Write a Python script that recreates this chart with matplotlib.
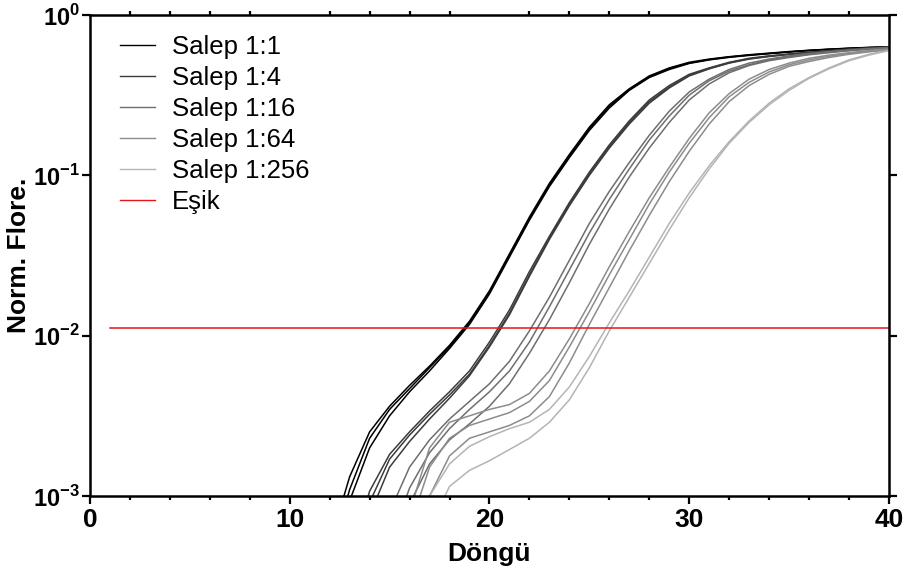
import numpy as np
import matplotlib
matplotlib.use('Agg')
import matplotlib.pyplot as plt
from matplotlib.ticker import MultipleLocator, FixedLocator

plt.rcParams['font.family'] = ['Liberation Sans', 'DejaVu Sans']
plt.rcParams['mathtext.fontset'] = 'custom'
plt.rcParams['mathtext.rm'] = 'Liberation Sans:bold'
plt.rcParams['mathtext.bf'] = 'Liberation Sans:bold'

# cycles 12..40, log10 of normalized fluorescence (nan = not reached yet)
cycles = np.arange(12, 41)
nan = np.nan

salep_1_1 = [
    [-3.30, -2.88, -2.60, -2.44, -2.31, -2.19, -2.06, -1.91, -1.72, -1.49, -1.26, -1.05, -0.87, -0.70, -0.56,
     -0.46, -0.38, -0.33, -0.295, -0.275, -0.26, -0.248, -0.238, -0.228, -0.22, -0.213, -0.207, -0.202, -0.198],
    [-3.40, -2.96, -2.64, -2.46, -2.33, -2.20, -2.07, -1.92, -1.73, -1.50, -1.27, -1.06, -0.88, -0.71, -0.57,
     -0.465, -0.385, -0.335, -0.30, -0.278, -0.262, -0.25, -0.24, -0.23, -0.221, -0.214, -0.208, -0.203, -0.199],
    [-3.50, -3.03, -2.70, -2.50, -2.35, -2.22, -2.08, -1.93, -1.74, -1.51, -1.28, -1.07, -0.89, -0.72, -0.58,
     -0.47, -0.39, -0.34, -0.302, -0.28, -0.264, -0.252, -0.241, -0.231, -0.222, -0.215, -0.209, -0.204, -0.20],
]
salep_1_4 = [
    [nan, -3.40, -2.97, -2.74, -2.60, -2.47, -2.35, -2.22, -2.04, -1.84, -1.60, -1.38, -1.17, -0.98, -0.81,
     -0.66, -0.53, -0.44, -0.37, -0.33, -0.295, -0.27, -0.255, -0.243, -0.232, -0.222, -0.213, -0.206, -0.20],
    [nan, -3.50, -3.04, -2.77, -2.62, -2.49, -2.37, -2.24, -2.06, -1.86, -1.62, -1.39, -1.18, -0.99, -0.82,
     -0.67, -0.54, -0.45, -0.375, -0.333, -0.298, -0.273, -0.257, -0.245, -0.234, -0.224, -0.215, -0.207, -0.201],
    [nan, nan, -3.12, -2.82, -2.66, -2.52, -2.39, -2.25, -2.07, -1.87, -1.63, -1.40, -1.19, -1.00, -0.83,
     -0.68, -0.55, -0.455, -0.38, -0.336, -0.30, -0.275, -0.259, -0.246, -0.235, -0.225, -0.216, -0.208, -0.202],
]
salep_1_16 = [
    [nan, nan, nan, -3.10, -2.82, -2.65, -2.52, -2.41, -2.30, -2.16, -1.97, -1.76, -1.53, -1.30, -1.10,
     -0.92, -0.75, -0.60, -0.48, -0.40, -0.34, -0.30, -0.275, -0.255, -0.24, -0.228, -0.218, -0.21, -0.203],
    [nan, nan, nan, -3.30, -2.95, -2.73, -2.58, -2.46, -2.35, -2.22, -2.04, -1.82, -1.59, -1.36, -1.15,
     -0.96, -0.78, -0.63, -0.50, -0.41, -0.35, -0.31, -0.28, -0.26, -0.245, -0.232, -0.221, -0.212, -0.205],
    [nan, nan, nan, nan, -3.05, -2.80, -2.65, -2.55, -2.44, -2.30, -2.11, -1.90, -1.67, -1.43, -1.21,
     -1.01, -0.83, -0.67, -0.53, -0.43, -0.36, -0.315, -0.285, -0.265, -0.248, -0.235, -0.223, -0.214, -0.206],
]
salep_1_64 = [
    [nan, nan, nan, nan, -3.10, -2.70, -2.54, -2.50, -2.46, -2.43, -2.36, -2.22, -2.02, -1.80, -1.57,
     -1.35, -1.14, -0.95, -0.77, -0.61, -0.49, -0.40, -0.34, -0.30, -0.27, -0.25, -0.235, -0.222, -0.212],
    [nan, nan, nan, nan, -3.20, -2.82, -2.64, -2.56, -2.52, -2.48, -2.41, -2.28, -2.07, -1.85, -1.62,
     -1.40, -1.18, -0.98, -0.80, -0.64, -0.51, -0.42, -0.355, -0.31, -0.28, -0.257, -0.24, -0.226, -0.215],
    [nan, nan, nan, nan, nan, -3.00, -2.75, -2.64, -2.60, -2.56, -2.50, -2.38, -2.17, -1.93, -1.70,
     -1.47, -1.25, -1.04, -0.85, -0.68, -0.54, -0.44, -0.37, -0.32, -0.29, -0.265, -0.245, -0.23, -0.218],
]
salep_1_256 = [
    [nan, nan, nan, nan, -3.40, -3.00, -2.80, -2.69, -2.63, -2.58, -2.54, -2.46, -2.32, -2.13, -1.92,
     -1.72, -1.51, -1.30, -1.11, -0.94, -0.79, -0.66, -0.55, -0.46, -0.39, -0.33, -0.28, -0.245, -0.22],
    [nan, nan, nan, nan, nan, -3.20, -2.94, -2.84, -2.78, -2.71, -2.64, -2.54, -2.40, -2.20, -1.97,
     -1.76, -1.55, -1.34, -1.14, -0.96, -0.80, -0.67, -0.56, -0.47, -0.395, -0.335, -0.285, -0.25, -0.222],
]

groups = [
    ('Salep 1:1', salep_1_1, '#000000'),
    ('Salep 1:4', salep_1_4, '#3c3c3c'),
    ('Salep 1:16', salep_1_16, '#6e6e6e'),
    ('Salep 1:64', salep_1_64, '#8c8c8c'),
    ('Salep 1:256', salep_1_256, '#b4b4b4'),
]

threshold_x = [1, 40]
threshold_y = [0.0112, 0.0112]

fig = plt.figure(figsize=(9.06, 5.77), dpi=100)
ax = fig.add_axes([0.0993, 0.1404, 0.8819, 0.8336])

for label, curves, color in groups:
    for i, logv in enumerate(curves):
        ax.plot(cycles, 10 ** np.array(logv), color=color, lw=1.1,
                label=label if i == 0 else None)

ax.plot(threshold_x, threshold_y, color='#e8141b', lw=1.1, label='Eşik')

ax.set_yscale('log')
ax.set_xlim(0, 40)
ax.set_ylim(1e-3, 1)

ax.xaxis.set_major_locator(MultipleLocator(10))
ax.xaxis.set_minor_locator(MultipleLocator(2))
ax.yaxis.set_major_locator(FixedLocator([1e-3, 1e-2, 1e-1, 1]))
ax.yaxis.set_minor_locator(FixedLocator([]))
ax.set_yticklabels([r'$10^{-3}$', r'$10^{-2}$', r'$10^{-1}$', r'$10^{0}$'])

for s in ax.spines.values():
    s.set_linewidth(1.8)

ax.tick_params(axis='x', which='both', direction='out', length=6, width=1.6,
               labelsize=19, pad=3)
ax.tick_params(axis='x', which='minor', top=True, length=3)
ax.tick_params(axis='y', which='major', direction='out', length=6, width=1.6,
               right=True, labelsize=17, pad=1)
for t in ax.get_xticklabels():
    t.set_fontweight('bold')

ax.set_xlabel('Döngü', fontsize=19, fontweight='bold')
ax.set_ylabel('Norm. Flore.', fontsize=19, fontweight='bold')
ax.xaxis.set_label_coords(0.5, -0.095)
ax.yaxis.set_label_coords(-0.074, 0.5)

leg = ax.legend(loc='upper left', bbox_to_anchor=(0.0375, 0.958), frameon=False,
                fontsize=18.5, handlelength=1.36, handletextpad=0.66, labelspacing=0.27,
                borderpad=0, borderaxespad=0)
for h in leg.get_lines():
    h.set_linewidth(1.0)

fig.savefig('out.png', dpi=100)
